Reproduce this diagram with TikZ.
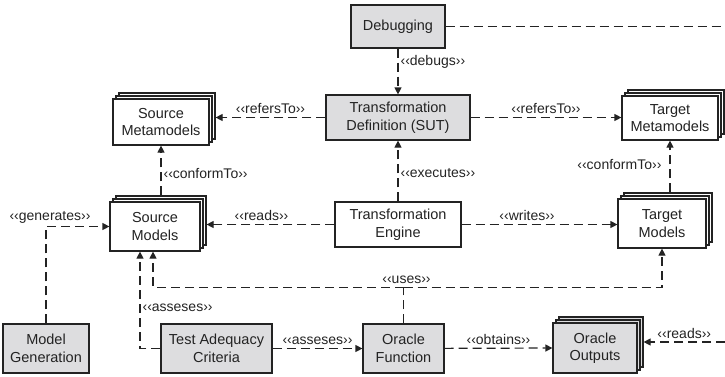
\documentclass[tikz,border=0pt]{standalone}
\usepackage{fontspec}
\setmainfont{Liberation Sans}
\usepackage{xcolor}
\usepackage{tikz}
\usetikzlibrary{calc, arrows.meta, shadows}

\definecolor{boxgray}{RGB}{221,221,223}
\definecolor{ink}{RGB}{35,35,35}

\begin{document}
\begin{tikzpicture}[x = 1pt, y = -1pt, color = ink,
  box/.style = {draw, line width = 1.2pt, align = center, inner sep = 2pt,
    font = \fontsize{14.5}{17.5}\selectfont},
  greybox/.style = {box, fill = boxgray},
  plainbox/.style = {box, fill = white},
  stacked/.style = {
    copy shadow = {shadow xshift = 6pt, shadow yshift = 6pt, draw = ink,
      fill = #1, line width = 1.2pt},
    copy shadow = {shadow xshift = 3pt, shadow yshift = 3pt, draw = ink,
      fill = #1, line width = 1.2pt}},
  rel/.style = {line width = 1.2pt, dash pattern = on 9pt off 5pt},
  arr/.style = {rel, -{Triangle[length = 7pt, width = 7pt]}},
  lbl/.style = {font = \fontsize{14}{16}\selectfont, inner sep = 2pt}]
  \useasboundingbox (0,0) rectangle (725,376);

  % boxes
  \node[greybox, minimum width = 94pt, minimum height = 43pt]
  (dbg) at (398, 26.5) {Debugging};
  \node[greybox, minimum width = 144pt, minimum height = 45pt]
  (tdef) at (398, 117.5) {Transformation\\Definition (SUT)};
  \node[plainbox, stacked = white, minimum width = 96pt, minimum height = 46pt]
  (smeta) at (161, 122) {Source\\Metamodels};
  \node[plainbox, stacked = white, minimum width = 96pt, minimum height = 44pt]
  (tmeta) at (670, 118) {Target\\Metamodels};
  \node[plainbox, minimum width = 126pt, minimum height = 45pt]
  (engine) at (398, 224.5) {Transformation\\Engine};
  \node[plainbox, stacked = white, minimum width = 90pt, minimum height = 49pt]
  (smodels) at (155, 226.5) {Source\\Models};
  \node[plainbox, stacked = white, minimum width = 88pt, minimum height = 49pt]
  (tmodels) at (662, 223.5) {Target\\Models};
  \node[greybox, minimum width = 86pt, minimum height = 49pt]
  (mgen) at (46, 348.5) {Model\\Generation};
  \node[greybox, minimum width = 111pt, minimum height = 49pt]
  (tac) at (216.5, 348.5) {Test Adequacy\\Criteria};
  \node[greybox, minimum width = 81pt, minimum height = 49pt]
  (ofunc) at (403.5, 348.5) {Oracle\\Function};
  \node[greybox, stacked = boxgray, minimum width = 84pt, minimum height = 50pt]
  (oout) at (595, 348) {Oracle\\Outputs};

  % outer edges of the stacks
  \coordinate (smetaR) at ([xshift = 6pt]smeta.east);
  \coordinate (smodelsR) at ([xshift = 6pt]smodels.east);
  \coordinate (smodelsT) at ([yshift = 6pt]smodels.north);
  \coordinate (tmodelsT) at ([yshift = 6pt]tmodels.north);
  \coordinate (ooutR) at ([xshift = 6pt]oout.east);
  % loose ends on the right border
  \coordinate (dbgout) at (725, 26.5);
  \coordinate (readin) at (725, 342);

  \draw[rel] (dbg.east) -- (dbgout);
  \draw[arr] (dbg) -- (tdef) node[lbl, pos = .3, right] {‹‹debugs››};
  \draw[arr] (tdef.west) -- (tdef.west -| smetaR)
  node[lbl, midway, above = 1pt] {‹‹refersTo››};
  \draw[arr] (tdef.east) -- (tdef.east -| tmeta.west)
  node[lbl, midway, above = 1pt] {‹‹refersTo››};
  \draw[arr] (engine) -- (tdef) node[lbl, pos = .47, right] {‹‹executes››};
  \draw[arr] (smeta.south |- smodelsT) -- (smeta.south)
  node[lbl, pos = .43, right] {‹‹conformTo››};
  \draw[arr] (tmeta.south |- tmodelsT) -- (tmeta.south)
  node[lbl, pos = .53, left = 6pt] {‹‹conformTo››};
  \draw[arr] (engine.west) -- (engine.west -| smodelsR)
  node[lbl, pos = .57, above = 1pt] {‹‹reads››};
  \draw[arr] (engine.east) -- (engine.east -| tmodels.west)
  node[lbl, pos = .42, above = 1pt] {‹‹writes››};
  \draw[arr] (mgen.north) |- (smodels.west)
  node[lbl, pos = .5, above = 1pt, xshift = 4pt] {‹‹generates››};

  % the oracle function uses both model sets
  \coordinate (uses) at ($(ofunc.north) + (0, -36)$);
  \draw[rel] (ofunc.north) -- (uses) node[lbl, pos = 1, above = 1pt, xshift = 3pt]
  {‹‹uses››};
  \draw[arr] (uses) -| ([xshift = -2pt]smodels.south);
  \draw[arr] (uses) -| (tmodels.south);

  \draw[arr] (tac.west) -| ([xshift = -15pt]smodels.south)
  node[lbl, pos = .71, right] {‹‹asseses››};
  \draw[arr] (tac) -- (ofunc) node[lbl, midway, above = 1pt] {‹‹asseses››};
  \draw[arr] (ofunc) -- (oout.west) node[lbl, midway, above = 1pt] {‹‹obtains››};
  \draw[arr] (readin) -- (readin -| ooutR)
  node[lbl, midway, above = 1pt] {‹‹reads››};
\end{tikzpicture}
\end{document}
